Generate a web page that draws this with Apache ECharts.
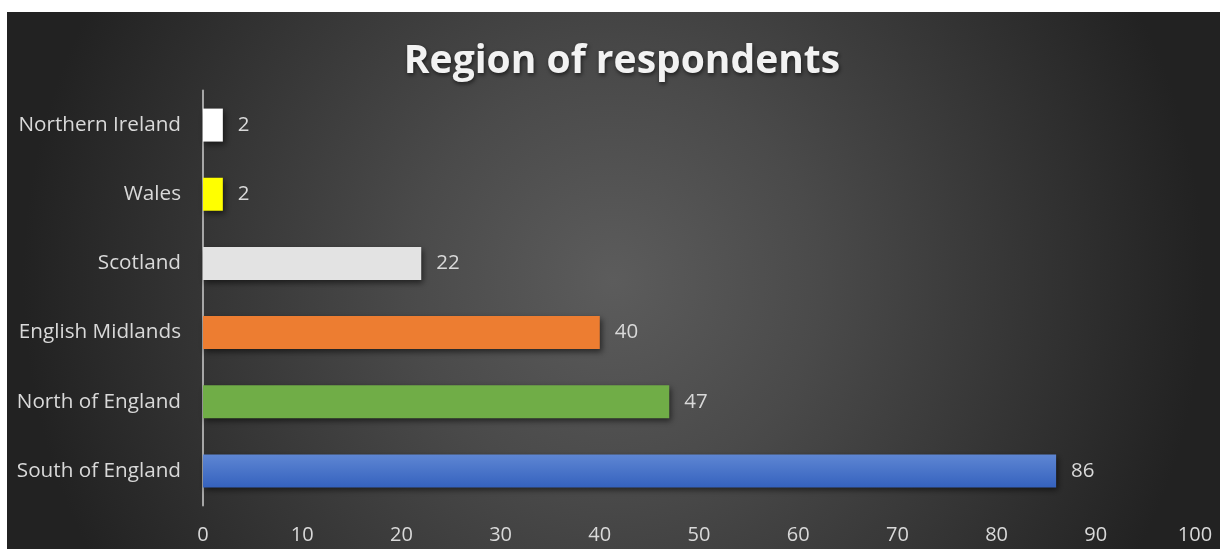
<!DOCTYPE html>
<html><head><meta charset="utf-8">
<script src="https://cdn.jsdelivr.net/npm/echarts@6/dist/echarts.min.js"></script>
<style>html,body{margin:0;padding:0;background:#fff}#c{width:1220px;height:549px}</style>
</head><body><div id="c"></div>
<script>
const categories = ['Northern Ireland','Wales','Scotland','English Midlands','North of England','South of England'];
const values = [2, 2, 22, 40, 47, 86];
const barColors = ['#ffffff','#ffff00','#e3e3e3','#ed7d31','#70ad47','blue-gradient'];
const xTicks = [0,10,20,30,40,50,60,70,80,90,100];

const chart = echarts.init(document.getElementById('c'), null, {renderer:'canvas'});
const font = '"Open Sans", "Noto Sans", sans-serif';
function colorFor(c){
  if(c==='blue-gradient') return new echarts.graphic.LinearGradient(0,0,0,1,[{offset:0,color:'#5e86d3'},{offset:1,color:'#3562be'}]);
  return c;
}
chart.setOption({
  backgroundColor:'#ffffff',
  animation:false,
  graphic:[{
    type:'rect', z:-10, silent:true,
    shape:{x:7,y:12,width:1213,height:537},
    style:{fill:new echarts.graphic.RadialGradient(0.5,0.5,1.1,[{offset:0,color:'#5c5c5c'},{offset:0.35,color:'#4a4a4a'},{offset:1,color:'#222222'}])}
  }],
  title:{
    text:'Region of respondents', left:617, top:37, textAlign:'center',
    textStyle:{color:'#f2f2f2', fontFamily:font, fontWeight:'bold', fontSize:39,
      textShadowColor:'rgba(0,0,0,0.6)', textShadowBlur:4, textShadowOffsetX:1, textShadowOffsetY:2}
  },
  grid:{left:203, right:25, top:90.5, bottom:43.5, containLabel:false},
  xAxis:{
    type:'value', min:0, max:100, interval:10,
    axisLine:{show:false}, axisTick:{show:false}, splitLine:{show:false},
    axisLabel:{color:'#d9d9d9', fontFamily:font, fontSize:20, margin:20,
      formatter:v=>xTicks.includes(v)?String(v):''}
  },
  yAxis:{
    type:'category', data:categories, inverse:true,
    axisLine:{show:true, lineStyle:{color:'#a6a6a6', width:2}},
    axisTick:{show:false},
    axisLabel:{color:'#d9d9d9', fontFamily:font, fontSize:20.7, margin:22}
  },
  series:[{
    type:'bar', barWidth:33,
    data:values.map((v,i)=>({value:v, itemStyle:{color:colorFor(barColors[i])}})),
    itemStyle:{shadowColor:'rgba(0,0,0,0.55)', shadowBlur:6, shadowOffsetX:2, shadowOffsetY:3},
    label:{show:true, position:'right', distance:15, color:'#d9d9d9', fontFamily:font, fontSize:20.5}
  }]
});
</script></body></html>
